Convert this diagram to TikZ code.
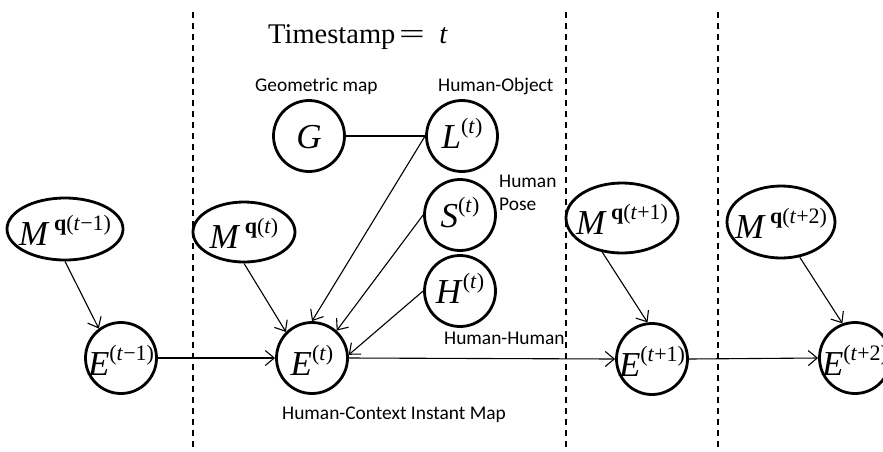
\documentclass[tikz,border=0pt]{standalone}
\usepackage{fontspec}
\setmainfont{Liberation Serif}
\newfontfamily\lblfont{Carlito}
\usetikzlibrary{arrows.meta,shapes.geometric}
\newcommand\mvar[1]{{\fontsize{35}{35}\selectfont\itshape #1}}
\newcommand\msup[1]{\raisebox{15pt}{\fontsize{22}{22}\selectfont #1}}
\newcommand\nodetext[2]{\makebox[0pt]{\raisebox{-#1}[0pt][0pt]{#2}}}
\tikzset{
  circnode/.style={circle,draw,line width=2.8pt,minimum size=71pt,inner sep=0pt},
  ellnode/.style={ellipse,draw,line width=2.8pt,inner sep=0pt},
  conn/.style={line width=1.1pt},
  arr/.style={conn,-{Straight Barb[length=9pt,width=15pt,line width=1.1pt]}},
  sepline/.style={line width=1.4pt,dash pattern=on 6pt off 5pt},
  lbl/.style={font=\lblfont\fontsize{19.4}{22}\selectfont,inner sep=0pt,anchor=base west},
}
\begin{document}
\begin{tikzpicture}[x=1pt,y=-1pt]
\clip (0,0) rectangle (883,451);
\fill[white] (0,0) rectangle (883,451);
% separators
\coordinate (d1t) at (193,12); \coordinate (d1b) at (193,449);
\coordinate (d2t) at (566,12); \coordinate (d2b) at (566,449);
\coordinate (d3t) at (718,12); \coordinate (d3b) at (718,449);
\draw[sepline] (d1t) -- (d1b);
\draw[sepline] (d2t) -- (d2b);
\draw[sepline] (d3t) -- (d3b);
% title and labels
\node[inner sep=0pt,anchor=base west,font=\fontsize{28.5}{30}\selectfont] (title) at (268,43)
  {Timestamp\hspace{3pt}\makebox[27pt]{\scalebox{1.6}[1]{=}}\hspace{14pt}\textit{t}};
\node[lbl] (lgeo) at (255,91) {Geometric map};
\node[lbl] (lho) at (438,91) {Human-Object};
\node[lbl] (lhp1) at (499,187) {Human};
\node[lbl] (lhp2) at (499,210) {Pose};
\node[lbl] (lhh) at (444,344) {Human-Human};
\node[lbl] (lhc) at (282,419) {Human-Context Instant Map};
% M nodes
\node[ellnode,minimum width=116pt,minimum height=62pt] (M1) at (65,229)
  {\nodetext{16pt}{\mvar{M}\hspace{6pt}\msup{\textbf{q}(\textit{t}−1)}}};
\node[ellnode,minimum width=102pt,minimum height=60pt] (M2) at (244,232)
  {\nodetext{16pt}{\mvar{M}\hspace{6pt}\msup{\textbf{q}(\textit{t})}}};
\node[ellnode,minimum width=112pt,minimum height=70pt] (M3) at (622,218)
  {\nodetext{16pt}{\mvar{M}\hspace{6pt}\msup{\textbf{q}(\textit{t}+1)}}};
\node[ellnode,minimum width=108pt,minimum height=72pt] (M4) at (781,222)
  {\nodetext{16pt}{\mvar{M}\hspace{6pt}\msup{\textbf{q}(\textit{t}+2)}}};
% E nodes
\node[circnode] (E1) at (121,358) {\nodetext{17pt}{\mvar{E}\msup{(\textit{t}−1)}}};
\node[circnode] (E2) at (312,358) {\nodetext{17pt}{\mvar{E}\msup{(\textit{t})}}};
\node[circnode] (E3) at (652,359) {\nodetext{17pt}{\mvar{E}\msup{(\textit{t}+1)}}};
\node[circnode] (E4) at (855,358) {\nodetext{17pt}{\mvar{E}\msup{(\textit{t}+2)}}};
% context nodes
\node[circnode] (G) at (309,136) {\nodetext{12pt}{\mvar{G}}};
\node[circnode] (L) at (462,136) {\nodetext{12pt}{\mvar{L}\msup{(\textit{t})}}};
\node[circnode] (S) at (460,215) {\nodetext{12pt}{\mvar{S}\msup{(\textit{t})}}};
\node[circnode] (H) at (460,291) {\nodetext{12pt}{\mvar{H}\,\msup{(\textit{t})}}};
% connectors
\draw[arr] (M1.south) -- (E1.127);
\draw[arr] (M2.south) -- (E2.135);
\draw[arr] (M3.240) -- (E3.97);
\draw[arr] (M4.298) -- (E4.110);
\draw[conn] (G.east) -- (L.west);
\draw[arr] (L.west) -- (E2.north);
\draw[arr] (S.west) -- (E2.48);
\draw[arr] (H.west) -- (E2.5);
\draw[arr] (E1.east) -- (E2.west);
\draw[arr] (E2.east) -- (E3.west);
\draw[arr] (E3.east) -- (E4.west);
\end{tikzpicture}
\end{document}
